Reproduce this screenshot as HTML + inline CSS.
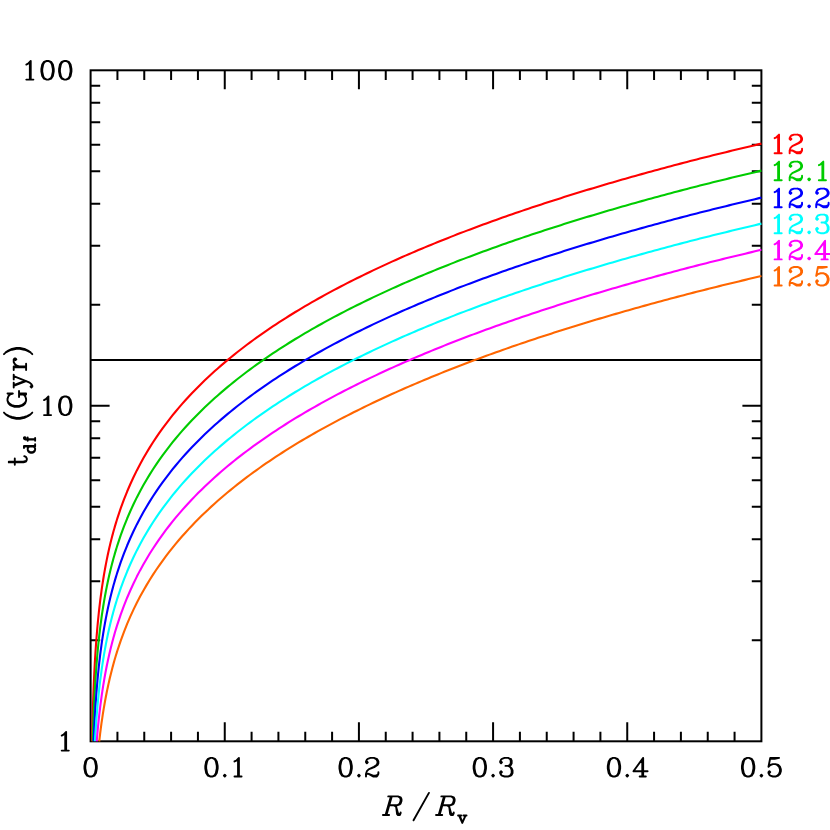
<!DOCTYPE html>
<html><head><meta charset="utf-8"><title>t_df vs R/R_v</title>
<style>html,body{margin:0;padding:0;background:#fff;font-family:"Liberation Sans",sans-serif}svg{display:block}</style>
</head><body>
<svg width="830" height="830" viewBox="0 0 830 830">
<rect width="830" height="830" fill="#fff"/>
<path d="M117.43 741.3 v-9.6M117.43 70.3 v9.6M144.26 741.3 v-9.6M144.26 70.3 v9.6M171.1 741.3 v-9.6M171.1 70.3 v9.6M197.93 741.3 v-9.6M197.93 70.3 v9.6M224.76 741.3 v-19.0M224.76 70.3 v19.0M251.59 741.3 v-9.6M251.59 70.3 v9.6M278.42 741.3 v-9.6M278.42 70.3 v9.6M305.26 741.3 v-9.6M305.26 70.3 v9.6M332.09 741.3 v-9.6M332.09 70.3 v9.6M358.92 741.3 v-19.0M358.92 70.3 v19.0M385.75 741.3 v-9.6M385.75 70.3 v9.6M412.58 741.3 v-9.6M412.58 70.3 v9.6M439.42 741.3 v-9.6M439.42 70.3 v9.6M466.25 741.3 v-9.6M466.25 70.3 v9.6M493.08 741.3 v-19.0M493.08 70.3 v19.0M519.91 741.3 v-9.6M519.91 70.3 v9.6M546.74 741.3 v-9.6M546.74 70.3 v9.6M573.58 741.3 v-9.6M573.58 70.3 v9.6M600.41 741.3 v-9.6M600.41 70.3 v9.6M627.24 741.3 v-19.0M627.24 70.3 v19.0M654.07 741.3 v-9.6M654.07 70.3 v9.6M680.9 741.3 v-9.6M680.9 70.3 v9.6M707.74 741.3 v-9.6M707.74 70.3 v9.6M734.57 741.3 v-9.6M734.57 70.3 v9.6M90.6 640.3 h9.6M761.4 640.3 h-9.6M90.6 581.23 h9.6M761.4 581.23 h-9.6M90.6 539.31 h9.6M761.4 539.31 h-9.6M90.6 506.8 h9.6M761.4 506.8 h-9.6M90.6 480.23 h9.6M761.4 480.23 h-9.6M90.6 457.77 h9.6M761.4 457.77 h-9.6M90.6 438.31 h9.6M761.4 438.31 h-9.6M90.6 421.15 h9.6M761.4 421.15 h-9.6M90.6 405.8 h19.0M761.4 405.8 h-19.0M90.6 304.8 h9.6M761.4 304.8 h-9.6M90.6 245.73 h9.6M761.4 245.73 h-9.6M90.6 203.81 h9.6M761.4 203.81 h-9.6M90.6 171.3 h9.6M761.4 171.3 h-9.6M90.6 144.73 h9.6M761.4 144.73 h-9.6M90.6 122.27 h9.6M761.4 122.27 h-9.6M90.6 102.81 h9.6M761.4 102.81 h-9.6M90.6 85.65 h9.6M761.4 85.65 h-9.6" stroke="#000" stroke-width="2.0" fill="none"/>
<rect x="90.6" y="70.3" width="670.8" height="671" stroke="#000" stroke-width="2.0" fill="none"/>
<path d="M90.6 359.93 H761.4" stroke="#000" stroke-width="2.1" fill="none"/>
<path d="M92.08 741.3 L92.16 736.98 L92.6 718.52 L93.04 703.72 L93.49 691.37 L93.93 680.75 L94.37 671.44 L94.82 663.13 L95.26 655.64 L95.7 648.81 L96.15 642.53 L96.59 636.72 L97.04 631.31 L97.48 626.25 L97.92 621.49 L98.37 617 L98.81 612.75 L99.25 608.71 L99.7 604.86 L100.14 601.19 L100.58 597.68 L101.03 594.3 L101.47 591.07 L101.91 587.95 L102.36 584.94 L102.8 582.04 L103.24 579.24 L103.69 576.53 L104.13 573.9 L104.57 571.35 L105.02 568.87 L105.46 566.46 L105.9 564.12 L106.35 561.84 L106.79 559.61 L107.23 557.45 L107.68 555.33 L108.12 553.26 L108.56 551.24 L109.01 549.27 L109.45 547.34 L109.89 545.45 L110.34 543.6 L110.78 541.78 L111.22 540 L111.67 538.26 L112.11 536.54 L112.55 534.86 L113 533.21 L113.44 531.59 L113.88 529.99 L114.33 528.42 L114.77 526.88 L115.21 525.37 L115.66 523.87 L116.1 522.4 L116.55 520.95 L116.99 519.53 L117.43 518.12 L120.67 508.44 L123.9 499.63 L127.14 491.52 L130.38 484.01 L133.61 476.99 L136.85 470.4 L140.08 464.19 L143.32 458.31 L146.56 452.71 L149.79 447.37 L153.03 442.27 L156.26 437.37 L159.5 432.67 L162.74 428.14 L165.97 423.77 L169.21 419.54 L172.44 415.45 L175.68 411.49 L178.92 407.65 L182.15 403.91 L185.39 400.28 L188.62 396.74 L191.86 393.29 L195.1 389.93 L198.33 386.65 L201.57 383.44 L204.8 380.31 L208.04 377.24 L211.28 374.24 L214.51 371.3 L217.75 368.42 L220.98 365.6 L224.22 362.83 L227.46 360.11 L230.69 357.44 L233.93 354.82 L237.16 352.24 L240.4 349.71 L243.64 347.22 L246.87 344.77 L250.11 342.35 L253.34 339.98 L256.58 337.64 L259.82 335.34 L263.05 333.07 L266.29 330.83 L269.52 328.63 L272.76 326.45 L276 324.31 L279.23 322.19 L282.47 320.1 L285.71 318.04 L288.94 316.01 L292.18 314 L295.41 312.02 L298.65 310.06 L301.89 308.12 L305.12 306.21 L308.36 304.32 L311.59 302.45 L314.83 300.6 L318.07 298.77 L321.3 296.97 L324.54 295.18 L327.77 293.41 L331.01 291.66 L334.25 289.93 L337.48 288.22 L340.72 286.52 L343.95 284.84 L347.19 283.18 L350.43 281.54 L353.66 279.91 L356.9 278.29 L360.13 276.69 L363.37 275.1 L366.61 273.52 L369.84 271.96 L373.08 270.41 L376.31 268.88 L379.55 267.36 L382.79 265.85 L386.02 264.35 L389.26 262.87 L392.49 261.4 L395.73 259.95 L398.97 258.5 L402.2 257.07 L405.44 255.65 L408.67 254.24 L411.91 252.84 L415.15 251.45 L418.38 250.08 L421.62 248.71 L424.85 247.36 L428.09 246.01 L431.33 244.68 L434.56 243.35 L437.8 242.04 L441.03 240.73 L444.27 239.44 L447.51 238.15 L450.74 236.88 L453.98 235.61 L457.21 234.35 L460.45 233.1 L463.69 231.86 L466.92 230.63 L470.16 229.4 L473.39 228.19 L476.63 226.98 L479.87 225.78 L483.1 224.59 L486.34 223.41 L489.57 222.23 L492.81 221.06 L496.05 219.9 L499.28 218.75 L502.52 217.61 L505.75 216.47 L508.99 215.34 L512.23 214.21 L515.46 213.09 L518.7 211.98 L521.93 210.88 L525.17 209.78 L528.41 208.69 L531.64 207.61 L534.88 206.53 L538.11 205.46 L541.35 204.4 L544.59 203.34 L547.82 202.28 L551.06 201.24 L554.29 200.2 L557.53 199.16 L560.77 198.13 L564 197.11 L567.24 196.09 L570.47 195.08 L573.71 194.08 L576.95 193.08 L580.18 192.08 L583.42 191.09 L586.65 190.11 L589.89 189.13 L593.13 188.15 L596.36 187.18 L599.6 186.22 L602.84 185.26 L606.07 184.31 L609.31 183.36 L612.54 182.41 L615.78 181.47 L619.02 180.54 L622.25 179.61 L625.49 178.68 L628.72 177.76 L631.96 176.85 L635.2 175.93 L638.43 175.03 L641.67 174.12 L644.9 173.23 L648.14 172.33 L651.38 171.44 L654.61 170.56 L657.85 169.67 L661.08 168.8 L664.32 167.92 L667.56 167.05 L670.79 166.19 L674.03 165.33 L677.26 164.47 L680.5 163.62 L683.74 162.77 L686.97 161.92 L690.21 161.08 L693.44 160.24 L696.68 159.41 L699.92 158.59 L703.15 157.77 L706.39 156.96 L709.62 156.15 L712.86 155.34 L716.1 154.54 L719.33 153.74 L722.57 152.94 L725.8 152.15 L729.04 151.36 L732.28 150.57 L735.51 149.79 L738.75 149.01 L741.98 148.23 L745.22 147.46 L748.46 146.69 L751.69 145.92 L754.93 145.15 L758.16 144.39 L761.4 143.64" stroke="#ff0000" stroke-width="2.1" fill="none" stroke-linejoin="round"/>
<path d="M92.73 741.3 L93.04 730.72 L93.49 718.37 L93.93 707.75 L94.37 698.44 L94.82 690.13 L95.26 682.64 L95.7 675.81 L96.15 669.53 L96.59 663.72 L97.04 658.31 L97.48 653.25 L97.92 648.49 L98.37 644 L98.81 639.75 L99.25 635.71 L99.7 631.86 L100.14 628.19 L100.58 624.68 L101.03 621.3 L101.47 618.07 L101.91 614.95 L102.36 611.94 L102.8 609.04 L103.24 606.24 L103.69 603.53 L104.13 600.9 L104.57 598.35 L105.02 595.87 L105.46 593.46 L105.9 591.12 L106.35 588.84 L106.79 586.61 L107.23 584.45 L107.68 582.33 L108.12 580.26 L108.56 578.24 L109.01 576.27 L109.45 574.34 L109.89 572.45 L110.34 570.6 L110.78 568.78 L111.22 567 L111.67 565.26 L112.11 563.54 L112.55 561.86 L113 560.21 L113.44 558.59 L113.88 556.99 L114.33 555.42 L114.77 553.88 L115.21 552.37 L115.66 550.87 L116.1 549.4 L116.55 547.95 L116.99 546.53 L117.43 545.12 L120.67 535.44 L123.9 526.63 L127.14 518.52 L130.38 511.01 L133.61 503.99 L136.85 497.4 L140.08 491.19 L143.32 485.31 L146.56 479.71 L149.79 474.37 L153.03 469.27 L156.26 464.37 L159.5 459.67 L162.74 455.14 L165.97 450.77 L169.21 446.54 L172.44 442.45 L175.68 438.49 L178.92 434.65 L182.15 430.91 L185.39 427.28 L188.62 423.74 L191.86 420.29 L195.1 416.93 L198.33 413.65 L201.57 410.44 L204.8 407.31 L208.04 404.24 L211.28 401.24 L214.51 398.3 L217.75 395.42 L220.98 392.6 L224.22 389.83 L227.46 387.11 L230.69 384.44 L233.93 381.82 L237.16 379.24 L240.4 376.71 L243.64 374.22 L246.87 371.77 L250.11 369.35 L253.34 366.98 L256.58 364.64 L259.82 362.34 L263.05 360.07 L266.29 357.83 L269.52 355.63 L272.76 353.45 L276 351.31 L279.23 349.19 L282.47 347.1 L285.71 345.04 L288.94 343.01 L292.18 341 L295.41 339.02 L298.65 337.06 L301.89 335.12 L305.12 333.21 L308.36 331.32 L311.59 329.45 L314.83 327.6 L318.07 325.77 L321.3 323.97 L324.54 322.18 L327.77 320.41 L331.01 318.66 L334.25 316.93 L337.48 315.22 L340.72 313.52 L343.95 311.84 L347.19 310.18 L350.43 308.54 L353.66 306.91 L356.9 305.29 L360.13 303.69 L363.37 302.1 L366.61 300.52 L369.84 298.96 L373.08 297.41 L376.31 295.88 L379.55 294.36 L382.79 292.85 L386.02 291.35 L389.26 289.87 L392.49 288.4 L395.73 286.95 L398.97 285.5 L402.2 284.07 L405.44 282.65 L408.67 281.24 L411.91 279.84 L415.15 278.45 L418.38 277.08 L421.62 275.71 L424.85 274.36 L428.09 273.01 L431.33 271.68 L434.56 270.35 L437.8 269.04 L441.03 267.73 L444.27 266.44 L447.51 265.15 L450.74 263.88 L453.98 262.61 L457.21 261.35 L460.45 260.1 L463.69 258.86 L466.92 257.63 L470.16 256.4 L473.39 255.19 L476.63 253.98 L479.87 252.78 L483.1 251.59 L486.34 250.41 L489.57 249.23 L492.81 248.06 L496.05 246.9 L499.28 245.75 L502.52 244.61 L505.75 243.47 L508.99 242.34 L512.23 241.21 L515.46 240.09 L518.7 238.98 L521.93 237.88 L525.17 236.78 L528.41 235.69 L531.64 234.61 L534.88 233.53 L538.11 232.46 L541.35 231.4 L544.59 230.34 L547.82 229.28 L551.06 228.24 L554.29 227.2 L557.53 226.16 L560.77 225.13 L564 224.11 L567.24 223.09 L570.47 222.08 L573.71 221.08 L576.95 220.08 L580.18 219.08 L583.42 218.09 L586.65 217.11 L589.89 216.13 L593.13 215.15 L596.36 214.18 L599.6 213.22 L602.84 212.26 L606.07 211.31 L609.31 210.36 L612.54 209.41 L615.78 208.47 L619.02 207.54 L622.25 206.61 L625.49 205.68 L628.72 204.76 L631.96 203.85 L635.2 202.93 L638.43 202.03 L641.67 201.12 L644.9 200.23 L648.14 199.33 L651.38 198.44 L654.61 197.56 L657.85 196.67 L661.08 195.8 L664.32 194.92 L667.56 194.05 L670.79 193.19 L674.03 192.33 L677.26 191.47 L680.5 190.62 L683.74 189.77 L686.97 188.92 L690.21 188.08 L693.44 187.24 L696.68 186.41 L699.92 185.59 L703.15 184.77 L706.39 183.96 L709.62 183.15 L712.86 182.34 L716.1 181.54 L719.33 180.74 L722.57 179.94 L725.8 179.15 L729.04 178.36 L732.28 177.57 L735.51 176.79 L738.75 176.01 L741.98 175.23 L745.22 174.46 L748.46 173.69 L751.69 172.92 L754.93 172.15 L758.16 171.39 L761.4 170.64" stroke="#00cc00" stroke-width="2.1" fill="none" stroke-linejoin="round"/>
<path d="M93.66 741.3 L93.93 734.75 L94.37 725.44 L94.82 717.13 L95.26 709.64 L95.7 702.81 L96.15 696.53 L96.59 690.72 L97.04 685.31 L97.48 680.25 L97.92 675.49 L98.37 671 L98.81 666.75 L99.25 662.71 L99.7 658.86 L100.14 655.19 L100.58 651.68 L101.03 648.3 L101.47 645.07 L101.91 641.95 L102.36 638.94 L102.8 636.04 L103.24 633.24 L103.69 630.53 L104.13 627.9 L104.57 625.35 L105.02 622.87 L105.46 620.46 L105.9 618.12 L106.35 615.84 L106.79 613.61 L107.23 611.45 L107.68 609.33 L108.12 607.26 L108.56 605.24 L109.01 603.27 L109.45 601.34 L109.89 599.45 L110.34 597.6 L110.78 595.78 L111.22 594 L111.67 592.26 L112.11 590.54 L112.55 588.86 L113 587.21 L113.44 585.59 L113.88 583.99 L114.33 582.42 L114.77 580.88 L115.21 579.37 L115.66 577.87 L116.1 576.4 L116.55 574.95 L116.99 573.53 L117.43 572.12 L120.67 562.44 L123.9 553.63 L127.14 545.52 L130.38 538.01 L133.61 530.99 L136.85 524.4 L140.08 518.19 L143.32 512.31 L146.56 506.71 L149.79 501.37 L153.03 496.27 L156.26 491.37 L159.5 486.67 L162.74 482.14 L165.97 477.77 L169.21 473.54 L172.44 469.45 L175.68 465.49 L178.92 461.65 L182.15 457.91 L185.39 454.28 L188.62 450.74 L191.86 447.29 L195.1 443.93 L198.33 440.65 L201.57 437.44 L204.8 434.31 L208.04 431.24 L211.28 428.24 L214.51 425.3 L217.75 422.42 L220.98 419.6 L224.22 416.83 L227.46 414.11 L230.69 411.44 L233.93 408.82 L237.16 406.24 L240.4 403.71 L243.64 401.22 L246.87 398.77 L250.11 396.35 L253.34 393.98 L256.58 391.64 L259.82 389.34 L263.05 387.07 L266.29 384.83 L269.52 382.63 L272.76 380.45 L276 378.31 L279.23 376.19 L282.47 374.1 L285.71 372.04 L288.94 370.01 L292.18 368 L295.41 366.02 L298.65 364.06 L301.89 362.12 L305.12 360.21 L308.36 358.32 L311.59 356.45 L314.83 354.6 L318.07 352.77 L321.3 350.97 L324.54 349.18 L327.77 347.41 L331.01 345.66 L334.25 343.93 L337.48 342.22 L340.72 340.52 L343.95 338.84 L347.19 337.18 L350.43 335.54 L353.66 333.91 L356.9 332.29 L360.13 330.69 L363.37 329.1 L366.61 327.52 L369.84 325.96 L373.08 324.41 L376.31 322.88 L379.55 321.36 L382.79 319.85 L386.02 318.35 L389.26 316.87 L392.49 315.4 L395.73 313.95 L398.97 312.5 L402.2 311.07 L405.44 309.65 L408.67 308.24 L411.91 306.84 L415.15 305.45 L418.38 304.08 L421.62 302.71 L424.85 301.36 L428.09 300.01 L431.33 298.68 L434.56 297.35 L437.8 296.04 L441.03 294.73 L444.27 293.44 L447.51 292.15 L450.74 290.88 L453.98 289.61 L457.21 288.35 L460.45 287.1 L463.69 285.86 L466.92 284.63 L470.16 283.4 L473.39 282.19 L476.63 280.98 L479.87 279.78 L483.1 278.59 L486.34 277.41 L489.57 276.23 L492.81 275.06 L496.05 273.9 L499.28 272.75 L502.52 271.61 L505.75 270.47 L508.99 269.34 L512.23 268.21 L515.46 267.09 L518.7 265.98 L521.93 264.88 L525.17 263.78 L528.41 262.69 L531.64 261.61 L534.88 260.53 L538.11 259.46 L541.35 258.4 L544.59 257.34 L547.82 256.28 L551.06 255.24 L554.29 254.2 L557.53 253.16 L560.77 252.13 L564 251.11 L567.24 250.09 L570.47 249.08 L573.71 248.08 L576.95 247.08 L580.18 246.08 L583.42 245.09 L586.65 244.11 L589.89 243.13 L593.13 242.15 L596.36 241.18 L599.6 240.22 L602.84 239.26 L606.07 238.31 L609.31 237.36 L612.54 236.41 L615.78 235.47 L619.02 234.54 L622.25 233.61 L625.49 232.68 L628.72 231.76 L631.96 230.85 L635.2 229.93 L638.43 229.03 L641.67 228.12 L644.9 227.23 L648.14 226.33 L651.38 225.44 L654.61 224.56 L657.85 223.67 L661.08 222.8 L664.32 221.92 L667.56 221.05 L670.79 220.19 L674.03 219.33 L677.26 218.47 L680.5 217.62 L683.74 216.77 L686.97 215.92 L690.21 215.08 L693.44 214.24 L696.68 213.41 L699.92 212.59 L703.15 211.77 L706.39 210.96 L709.62 210.15 L712.86 209.34 L716.1 208.54 L719.33 207.74 L722.57 206.94 L725.8 206.15 L729.04 205.36 L732.28 204.57 L735.51 203.79 L738.75 203.01 L741.98 202.23 L745.22 201.46 L748.46 200.69 L751.69 199.92 L754.93 199.15 L758.16 198.39 L761.4 197.64" stroke="#0000ff" stroke-width="2.1" fill="none" stroke-linejoin="round"/>
<path d="M94.93 741.3 L95.26 735.64 L95.7 728.81 L96.15 722.53 L96.59 716.72 L97.04 711.31 L97.48 706.25 L97.92 701.49 L98.37 697 L98.81 692.75 L99.25 688.71 L99.7 684.86 L100.14 681.19 L100.58 677.68 L101.03 674.3 L101.47 671.07 L101.91 667.95 L102.36 664.94 L102.8 662.04 L103.24 659.24 L103.69 656.53 L104.13 653.9 L104.57 651.35 L105.02 648.87 L105.46 646.46 L105.9 644.12 L106.35 641.84 L106.79 639.61 L107.23 637.45 L107.68 635.33 L108.12 633.26 L108.56 631.24 L109.01 629.27 L109.45 627.34 L109.89 625.45 L110.34 623.6 L110.78 621.78 L111.22 620 L111.67 618.26 L112.11 616.54 L112.55 614.86 L113 613.21 L113.44 611.59 L113.88 609.99 L114.33 608.42 L114.77 606.88 L115.21 605.37 L115.66 603.87 L116.1 602.4 L116.55 600.95 L116.99 599.53 L117.43 598.12 L120.67 588.44 L123.9 579.63 L127.14 571.52 L130.38 564.01 L133.61 556.99 L136.85 550.4 L140.08 544.19 L143.32 538.31 L146.56 532.71 L149.79 527.37 L153.03 522.27 L156.26 517.37 L159.5 512.67 L162.74 508.14 L165.97 503.77 L169.21 499.54 L172.44 495.45 L175.68 491.49 L178.92 487.65 L182.15 483.91 L185.39 480.28 L188.62 476.74 L191.86 473.29 L195.1 469.93 L198.33 466.65 L201.57 463.44 L204.8 460.31 L208.04 457.24 L211.28 454.24 L214.51 451.3 L217.75 448.42 L220.98 445.6 L224.22 442.83 L227.46 440.11 L230.69 437.44 L233.93 434.82 L237.16 432.24 L240.4 429.71 L243.64 427.22 L246.87 424.77 L250.11 422.35 L253.34 419.98 L256.58 417.64 L259.82 415.34 L263.05 413.07 L266.29 410.83 L269.52 408.63 L272.76 406.45 L276 404.31 L279.23 402.19 L282.47 400.1 L285.71 398.04 L288.94 396.01 L292.18 394 L295.41 392.02 L298.65 390.06 L301.89 388.12 L305.12 386.21 L308.36 384.32 L311.59 382.45 L314.83 380.6 L318.07 378.77 L321.3 376.97 L324.54 375.18 L327.77 373.41 L331.01 371.66 L334.25 369.93 L337.48 368.22 L340.72 366.52 L343.95 364.84 L347.19 363.18 L350.43 361.54 L353.66 359.91 L356.9 358.29 L360.13 356.69 L363.37 355.1 L366.61 353.52 L369.84 351.96 L373.08 350.41 L376.31 348.88 L379.55 347.36 L382.79 345.85 L386.02 344.35 L389.26 342.87 L392.49 341.4 L395.73 339.95 L398.97 338.5 L402.2 337.07 L405.44 335.65 L408.67 334.24 L411.91 332.84 L415.15 331.45 L418.38 330.08 L421.62 328.71 L424.85 327.36 L428.09 326.01 L431.33 324.68 L434.56 323.35 L437.8 322.04 L441.03 320.73 L444.27 319.44 L447.51 318.15 L450.74 316.88 L453.98 315.61 L457.21 314.35 L460.45 313.1 L463.69 311.86 L466.92 310.63 L470.16 309.4 L473.39 308.19 L476.63 306.98 L479.87 305.78 L483.1 304.59 L486.34 303.41 L489.57 302.23 L492.81 301.06 L496.05 299.9 L499.28 298.75 L502.52 297.61 L505.75 296.47 L508.99 295.34 L512.23 294.21 L515.46 293.09 L518.7 291.98 L521.93 290.88 L525.17 289.78 L528.41 288.69 L531.64 287.61 L534.88 286.53 L538.11 285.46 L541.35 284.4 L544.59 283.34 L547.82 282.28 L551.06 281.24 L554.29 280.2 L557.53 279.16 L560.77 278.13 L564 277.11 L567.24 276.09 L570.47 275.08 L573.71 274.08 L576.95 273.08 L580.18 272.08 L583.42 271.09 L586.65 270.11 L589.89 269.13 L593.13 268.15 L596.36 267.18 L599.6 266.22 L602.84 265.26 L606.07 264.31 L609.31 263.36 L612.54 262.41 L615.78 261.47 L619.02 260.54 L622.25 259.61 L625.49 258.68 L628.72 257.76 L631.96 256.85 L635.2 255.93 L638.43 255.03 L641.67 254.12 L644.9 253.23 L648.14 252.33 L651.38 251.44 L654.61 250.56 L657.85 249.67 L661.08 248.8 L664.32 247.92 L667.56 247.05 L670.79 246.19 L674.03 245.33 L677.26 244.47 L680.5 243.62 L683.74 242.77 L686.97 241.92 L690.21 241.08 L693.44 240.24 L696.68 239.41 L699.92 238.59 L703.15 237.77 L706.39 236.96 L709.62 236.15 L712.86 235.34 L716.1 234.54 L719.33 233.74 L722.57 232.94 L725.8 232.15 L729.04 231.36 L732.28 230.57 L735.51 229.79 L738.75 229.01 L741.98 228.23 L745.22 227.46 L748.46 226.69 L751.69 225.92 L754.93 225.15 L758.16 224.39 L761.4 223.64" stroke="#00ffff" stroke-width="2.1" fill="none" stroke-linejoin="round"/>
<path d="M96.72 741.3 L97.04 737.51 L97.48 732.45 L97.92 727.69 L98.37 723.2 L98.81 718.95 L99.25 714.91 L99.7 711.06 L100.14 707.39 L100.58 703.88 L101.03 700.5 L101.47 697.27 L101.91 694.15 L102.36 691.14 L102.8 688.24 L103.24 685.44 L103.69 682.73 L104.13 680.1 L104.57 677.55 L105.02 675.07 L105.46 672.66 L105.9 670.32 L106.35 668.04 L106.79 665.81 L107.23 663.65 L107.68 661.53 L108.12 659.46 L108.56 657.44 L109.01 655.47 L109.45 653.54 L109.89 651.65 L110.34 649.8 L110.78 647.98 L111.22 646.2 L111.67 644.46 L112.11 642.74 L112.55 641.06 L113 639.41 L113.44 637.79 L113.88 636.19 L114.33 634.62 L114.77 633.08 L115.21 631.57 L115.66 630.07 L116.1 628.6 L116.55 627.15 L116.99 625.73 L117.43 624.32 L120.67 614.64 L123.9 605.83 L127.14 597.72 L130.38 590.21 L133.61 583.19 L136.85 576.6 L140.08 570.39 L143.32 564.51 L146.56 558.91 L149.79 553.57 L153.03 548.47 L156.26 543.57 L159.5 538.87 L162.74 534.34 L165.97 529.97 L169.21 525.74 L172.44 521.65 L175.68 517.69 L178.92 513.85 L182.15 510.11 L185.39 506.48 L188.62 502.94 L191.86 499.49 L195.1 496.13 L198.33 492.85 L201.57 489.64 L204.8 486.51 L208.04 483.44 L211.28 480.44 L214.51 477.5 L217.75 474.62 L220.98 471.8 L224.22 469.03 L227.46 466.31 L230.69 463.64 L233.93 461.02 L237.16 458.44 L240.4 455.91 L243.64 453.42 L246.87 450.97 L250.11 448.55 L253.34 446.18 L256.58 443.84 L259.82 441.54 L263.05 439.27 L266.29 437.03 L269.52 434.83 L272.76 432.65 L276 430.51 L279.23 428.39 L282.47 426.3 L285.71 424.24 L288.94 422.21 L292.18 420.2 L295.41 418.22 L298.65 416.26 L301.89 414.32 L305.12 412.41 L308.36 410.52 L311.59 408.65 L314.83 406.8 L318.07 404.97 L321.3 403.17 L324.54 401.38 L327.77 399.61 L331.01 397.86 L334.25 396.13 L337.48 394.42 L340.72 392.72 L343.95 391.04 L347.19 389.38 L350.43 387.74 L353.66 386.11 L356.9 384.49 L360.13 382.89 L363.37 381.3 L366.61 379.72 L369.84 378.16 L373.08 376.61 L376.31 375.08 L379.55 373.56 L382.79 372.05 L386.02 370.55 L389.26 369.07 L392.49 367.6 L395.73 366.15 L398.97 364.7 L402.2 363.27 L405.44 361.85 L408.67 360.44 L411.91 359.04 L415.15 357.65 L418.38 356.28 L421.62 354.91 L424.85 353.56 L428.09 352.21 L431.33 350.88 L434.56 349.55 L437.8 348.24 L441.03 346.93 L444.27 345.64 L447.51 344.35 L450.74 343.08 L453.98 341.81 L457.21 340.55 L460.45 339.3 L463.69 338.06 L466.92 336.83 L470.16 335.6 L473.39 334.39 L476.63 333.18 L479.87 331.98 L483.1 330.79 L486.34 329.61 L489.57 328.43 L492.81 327.26 L496.05 326.1 L499.28 324.95 L502.52 323.81 L505.75 322.67 L508.99 321.54 L512.23 320.41 L515.46 319.29 L518.7 318.18 L521.93 317.08 L525.17 315.98 L528.41 314.89 L531.64 313.81 L534.88 312.73 L538.11 311.66 L541.35 310.6 L544.59 309.54 L547.82 308.48 L551.06 307.44 L554.29 306.4 L557.53 305.36 L560.77 304.33 L564 303.31 L567.24 302.29 L570.47 301.28 L573.71 300.28 L576.95 299.28 L580.18 298.28 L583.42 297.29 L586.65 296.31 L589.89 295.33 L593.13 294.35 L596.36 293.38 L599.6 292.42 L602.84 291.46 L606.07 290.51 L609.31 289.56 L612.54 288.61 L615.78 287.67 L619.02 286.74 L622.25 285.81 L625.49 284.88 L628.72 283.96 L631.96 283.05 L635.2 282.13 L638.43 281.23 L641.67 280.32 L644.9 279.43 L648.14 278.53 L651.38 277.64 L654.61 276.76 L657.85 275.87 L661.08 275 L664.32 274.12 L667.56 273.25 L670.79 272.39 L674.03 271.53 L677.26 270.67 L680.5 269.82 L683.74 268.97 L686.97 268.12 L690.21 267.28 L693.44 266.44 L696.68 265.61 L699.92 264.79 L703.15 263.97 L706.39 263.16 L709.62 262.35 L712.86 261.54 L716.1 260.74 L719.33 259.94 L722.57 259.14 L725.8 258.35 L729.04 257.56 L732.28 256.77 L735.51 255.99 L738.75 255.21 L741.98 254.43 L745.22 253.66 L748.46 252.89 L751.69 252.12 L754.93 251.35 L758.16 250.59 L761.4 249.84" stroke="#ff00ff" stroke-width="2.1" fill="none" stroke-linejoin="round"/>
<path d="M99.23 741.3 L99.25 741.11 L99.7 737.26 L100.14 733.59 L100.58 730.08 L101.03 726.7 L101.47 723.47 L101.91 720.35 L102.36 717.34 L102.8 714.44 L103.24 711.64 L103.69 708.93 L104.13 706.3 L104.57 703.75 L105.02 701.27 L105.46 698.86 L105.9 696.52 L106.35 694.24 L106.79 692.01 L107.23 689.85 L107.68 687.73 L108.12 685.66 L108.56 683.64 L109.01 681.67 L109.45 679.74 L109.89 677.85 L110.34 676 L110.78 674.18 L111.22 672.4 L111.67 670.66 L112.11 668.94 L112.55 667.26 L113 665.61 L113.44 663.99 L113.88 662.39 L114.33 660.82 L114.77 659.28 L115.21 657.77 L115.66 656.27 L116.1 654.8 L116.55 653.35 L116.99 651.93 L117.43 650.52 L120.67 640.84 L123.9 632.03 L127.14 623.92 L130.38 616.41 L133.61 609.39 L136.85 602.8 L140.08 596.59 L143.32 590.71 L146.56 585.11 L149.79 579.77 L153.03 574.67 L156.26 569.77 L159.5 565.07 L162.74 560.54 L165.97 556.17 L169.21 551.94 L172.44 547.85 L175.68 543.89 L178.92 540.05 L182.15 536.31 L185.39 532.68 L188.62 529.14 L191.86 525.69 L195.1 522.33 L198.33 519.05 L201.57 515.84 L204.8 512.71 L208.04 509.64 L211.28 506.64 L214.51 503.7 L217.75 500.82 L220.98 498 L224.22 495.23 L227.46 492.51 L230.69 489.84 L233.93 487.22 L237.16 484.64 L240.4 482.11 L243.64 479.62 L246.87 477.17 L250.11 474.75 L253.34 472.38 L256.58 470.04 L259.82 467.74 L263.05 465.47 L266.29 463.23 L269.52 461.03 L272.76 458.85 L276 456.71 L279.23 454.59 L282.47 452.5 L285.71 450.44 L288.94 448.41 L292.18 446.4 L295.41 444.42 L298.65 442.46 L301.89 440.52 L305.12 438.61 L308.36 436.72 L311.59 434.85 L314.83 433 L318.07 431.17 L321.3 429.37 L324.54 427.58 L327.77 425.81 L331.01 424.06 L334.25 422.33 L337.48 420.62 L340.72 418.92 L343.95 417.24 L347.19 415.58 L350.43 413.94 L353.66 412.31 L356.9 410.69 L360.13 409.09 L363.37 407.5 L366.61 405.92 L369.84 404.36 L373.08 402.81 L376.31 401.28 L379.55 399.76 L382.79 398.25 L386.02 396.75 L389.26 395.27 L392.49 393.8 L395.73 392.35 L398.97 390.9 L402.2 389.47 L405.44 388.05 L408.67 386.64 L411.91 385.24 L415.15 383.85 L418.38 382.48 L421.62 381.11 L424.85 379.76 L428.09 378.41 L431.33 377.08 L434.56 375.75 L437.8 374.44 L441.03 373.13 L444.27 371.84 L447.51 370.55 L450.74 369.28 L453.98 368.01 L457.21 366.75 L460.45 365.5 L463.69 364.26 L466.92 363.03 L470.16 361.8 L473.39 360.59 L476.63 359.38 L479.87 358.18 L483.1 356.99 L486.34 355.81 L489.57 354.63 L492.81 353.46 L496.05 352.3 L499.28 351.15 L502.52 350.01 L505.75 348.87 L508.99 347.74 L512.23 346.61 L515.46 345.49 L518.7 344.38 L521.93 343.28 L525.17 342.18 L528.41 341.09 L531.64 340.01 L534.88 338.93 L538.11 337.86 L541.35 336.8 L544.59 335.74 L547.82 334.68 L551.06 333.64 L554.29 332.6 L557.53 331.56 L560.77 330.53 L564 329.51 L567.24 328.49 L570.47 327.48 L573.71 326.48 L576.95 325.48 L580.18 324.48 L583.42 323.49 L586.65 322.51 L589.89 321.53 L593.13 320.55 L596.36 319.58 L599.6 318.62 L602.84 317.66 L606.07 316.71 L609.31 315.76 L612.54 314.81 L615.78 313.87 L619.02 312.94 L622.25 312.01 L625.49 311.08 L628.72 310.16 L631.96 309.25 L635.2 308.33 L638.43 307.43 L641.67 306.52 L644.9 305.63 L648.14 304.73 L651.38 303.84 L654.61 302.96 L657.85 302.07 L661.08 301.2 L664.32 300.32 L667.56 299.45 L670.79 298.59 L674.03 297.73 L677.26 296.87 L680.5 296.02 L683.74 295.17 L686.97 294.32 L690.21 293.48 L693.44 292.64 L696.68 291.81 L699.92 290.99 L703.15 290.17 L706.39 289.36 L709.62 288.55 L712.86 287.74 L716.1 286.94 L719.33 286.14 L722.57 285.34 L725.8 284.55 L729.04 283.76 L732.28 282.97 L735.51 282.19 L738.75 281.41 L741.98 280.63 L745.22 279.86 L748.46 279.09 L751.69 278.32 L754.93 277.55 L758.16 276.79 L761.4 276.04" stroke="#ff6600" stroke-width="2.1" fill="none" stroke-linejoin="round"/>
<path transform="translate(90.6 776.5) translate(-8.85 0)" d="M7.96 -18.59 L9.73 -18.59 L11.51 -17.7 L12.39 -16.82 L13.28 -15.04 L14.16 -10.62 L14.16 -7.96 L13.28 -3.54 L12.39 -1.77 L11.51 -0.89 L9.73 0 L7.96 0 L6.2 -0.89 L5.31 -1.77 L4.42 -3.54 L3.54 -7.96 L3.54 -10.62 L4.42 -15.04 L5.31 -16.82 L6.2 -17.7 L7.96 -18.59 L5.31 -17.7 L3.54 -15.04 L2.66 -10.62 L2.66 -7.96 L3.54 -3.54 L5.31 -0.89 L7.96 0M9.73 -18.59 L12.39 -17.7 L14.16 -15.04 L15.04 -10.62 L15.04 -7.96 L14.16 -3.54 L12.39 -0.89 L9.73 0" stroke="#000" stroke-width="1.9" fill="none" stroke-linecap="round" stroke-linejoin="round"/>
<path transform="translate(224.76 776.5) translate(-22.12 0)" d="M7.96 -18.59 L9.73 -18.59 L11.51 -17.7 L12.39 -16.82 L13.28 -15.04 L14.16 -10.62 L14.16 -7.96 L13.28 -3.54 L12.39 -1.77 L11.51 -0.89 L9.73 0 L7.96 0 L6.2 -0.89 L5.31 -1.77 L4.42 -3.54 L3.54 -7.96 L3.54 -10.62 L4.42 -15.04 L5.31 -16.82 L6.2 -17.7 L7.96 -18.59 L5.31 -17.7 L3.54 -15.04 L2.66 -10.62 L2.66 -7.96 L3.54 -3.54 L5.31 -0.89 L7.96 0M9.73 -18.59 L12.39 -17.7 L14.16 -15.04 L15.04 -10.62 L15.04 -7.96 L14.16 -3.54 L12.39 -0.89 L9.73 0M21.24 -0.89 L22.12 -1.77 L23.01 -0.89 L22.12 0 L21.24 -0.89M31.86 -15.04 L33.63 -15.93 L36.28 -18.59 L36.28 0M31.86 0 L38.94 0M35.4 -17.7 L35.4 0" stroke="#000" stroke-width="1.9" fill="none" stroke-linecap="round" stroke-linejoin="round"/>
<path transform="translate(358.92 776.5) translate(-22.12 0)" d="M7.96 -18.59 L9.73 -18.59 L11.51 -17.7 L12.39 -16.82 L13.28 -15.04 L14.16 -10.62 L14.16 -7.96 L13.28 -3.54 L12.39 -1.77 L11.51 -0.89 L9.73 0 L7.96 0 L6.2 -0.89 L5.31 -1.77 L4.42 -3.54 L3.54 -7.96 L3.54 -10.62 L4.42 -15.04 L5.31 -16.82 L6.2 -17.7 L7.96 -18.59 L5.31 -17.7 L3.54 -15.04 L2.66 -10.62 L2.66 -7.96 L3.54 -3.54 L5.31 -0.89 L7.96 0M9.73 -18.59 L12.39 -17.7 L14.16 -15.04 L15.04 -10.62 L15.04 -7.96 L14.16 -3.54 L12.39 -0.89 L9.73 0M21.24 -0.89 L22.12 -1.77 L23.01 -0.89 L22.12 0 L21.24 -0.89M29.2 -1.77 L30.09 -2.66 L31.86 -2.66 L36.28 -0.89 L38.94 -0.89 L40.71 -1.77 L41.59 -2.66 L41.59 -4.42M29.2 0 L29.2 -2.66 L30.09 -5.31 L31.86 -7.08 L37.17 -9.73 L39.82 -11.51 L40.71 -13.28 L40.71 -15.04 L39.82 -16.82 L38.94 -17.7 L37.17 -18.59 L33.63 -18.59 L30.97 -17.7 L30.09 -16.82 L29.2 -15.04 L29.2 -14.16 L30.09 -13.28 L30.97 -14.16 L30.09 -15.04M31.86 -2.66 L36.28 0 L39.82 0 L40.71 -0.89 L41.59 -2.66M33.63 -7.96 L38.05 -9.73 L40.71 -11.51 L41.59 -13.28 L41.59 -15.04 L40.71 -16.82 L39.82 -17.7 L37.17 -18.59" stroke="#000" stroke-width="1.9" fill="none" stroke-linecap="round" stroke-linejoin="round"/>
<path transform="translate(493.08 776.5) translate(-22.12 0)" d="M7.96 -18.59 L9.73 -18.59 L11.51 -17.7 L12.39 -16.82 L13.28 -15.04 L14.16 -10.62 L14.16 -7.96 L13.28 -3.54 L12.39 -1.77 L11.51 -0.89 L9.73 0 L7.96 0 L6.2 -0.89 L5.31 -1.77 L4.42 -3.54 L3.54 -7.96 L3.54 -10.62 L4.42 -15.04 L5.31 -16.82 L6.2 -17.7 L7.96 -18.59 L5.31 -17.7 L3.54 -15.04 L2.66 -10.62 L2.66 -7.96 L3.54 -3.54 L5.31 -0.89 L7.96 0M9.73 -18.59 L12.39 -17.7 L14.16 -15.04 L15.04 -10.62 L15.04 -7.96 L14.16 -3.54 L12.39 -0.89 L9.73 0M21.24 -0.89 L22.12 -1.77 L23.01 -0.89 L22.12 0 L21.24 -0.89M30.09 -15.04 L30.97 -14.16 L30.09 -13.28 L29.2 -14.16 L29.2 -15.04 L30.09 -16.82 L30.97 -17.7 L33.63 -18.59 L37.17 -18.59 L38.94 -17.7 L39.82 -15.93 L39.82 -13.28 L38.94 -11.51 L37.17 -10.62 L39.82 -11.51 L40.71 -13.28 L40.71 -15.93 L39.82 -17.7 L37.17 -18.59M30.09 -3.54 L30.97 -4.42 L30.09 -5.31 L29.2 -4.42 L29.2 -3.54 L30.09 -1.77 L30.97 -0.89 L33.63 0 L37.17 0 L38.94 -0.89 L39.82 -1.77 L40.71 -3.54 L40.71 -6.2 L39.82 -8.85M34.52 -10.62 L37.17 -10.62 L38.94 -9.73 L40.71 -7.96 L41.59 -6.2 L41.59 -3.54 L40.71 -1.77 L39.82 -0.89 L37.17 0" stroke="#000" stroke-width="1.9" fill="none" stroke-linecap="round" stroke-linejoin="round"/>
<path transform="translate(627.24 776.5) translate(-22.12 0)" d="M7.96 -18.59 L9.73 -18.59 L11.51 -17.7 L12.39 -16.82 L13.28 -15.04 L14.16 -10.62 L14.16 -7.96 L13.28 -3.54 L12.39 -1.77 L11.51 -0.89 L9.73 0 L7.96 0 L6.2 -0.89 L5.31 -1.77 L4.42 -3.54 L3.54 -7.96 L3.54 -10.62 L4.42 -15.04 L5.31 -16.82 L6.2 -17.7 L7.96 -18.59 L5.31 -17.7 L3.54 -15.04 L2.66 -10.62 L2.66 -7.96 L3.54 -3.54 L5.31 -0.89 L7.96 0M9.73 -18.59 L12.39 -17.7 L14.16 -15.04 L15.04 -10.62 L15.04 -7.96 L14.16 -3.54 L12.39 -0.89 L9.73 0M21.24 -0.89 L22.12 -1.77 L23.01 -0.89 L22.12 0 L21.24 -0.89M34.52 0 L40.71 0M37.17 -16.82 L37.17 0M38.05 0 L38.05 -18.59 L28.32 -5.31 L42.48 -5.31" stroke="#000" stroke-width="1.9" fill="none" stroke-linecap="round" stroke-linejoin="round"/>
<path transform="translate(761.4 776.5) translate(-22.12 0)" d="M7.96 -18.59 L9.73 -18.59 L11.51 -17.7 L12.39 -16.82 L13.28 -15.04 L14.16 -10.62 L14.16 -7.96 L13.28 -3.54 L12.39 -1.77 L11.51 -0.89 L9.73 0 L7.96 0 L6.2 -0.89 L5.31 -1.77 L4.42 -3.54 L3.54 -7.96 L3.54 -10.62 L4.42 -15.04 L5.31 -16.82 L6.2 -17.7 L7.96 -18.59 L5.31 -17.7 L3.54 -15.04 L2.66 -10.62 L2.66 -7.96 L3.54 -3.54 L5.31 -0.89 L7.96 0M9.73 -18.59 L12.39 -17.7 L14.16 -15.04 L15.04 -10.62 L15.04 -7.96 L14.16 -3.54 L12.39 -0.89 L9.73 0M21.24 -0.89 L22.12 -1.77 L23.01 -0.89 L22.12 0 L21.24 -0.89M30.09 -3.54 L30.97 -4.42 L30.09 -5.31 L29.2 -4.42 L29.2 -3.54 L30.09 -1.77 L30.97 -0.89 L33.63 0 L36.28 0 L38.05 -0.89 L39.82 -2.66 L40.71 -5.31 L40.71 -7.08 L39.82 -9.73 L38.05 -11.51 L36.28 -12.39 L33.63 -12.39 L30.97 -11.51 L29.2 -9.73 L30.97 -18.59 L39.82 -18.59 L35.4 -17.7 L30.97 -17.7M36.28 -12.39 L38.94 -11.51 L40.71 -9.73 L41.59 -7.08 L41.59 -5.31 L40.71 -2.66 L38.94 -0.89 L36.28 0" stroke="#000" stroke-width="1.9" fill="none" stroke-linecap="round" stroke-linejoin="round"/>
<path transform="translate(74.1 750.59) translate(-17.7 0)" d="M5.31 -15.04 L7.08 -15.93 L9.73 -18.59 L9.73 0M5.31 0 L12.39 0M8.85 -17.7 L8.85 0" stroke="#000" stroke-width="1.9" fill="none" stroke-linecap="round" stroke-linejoin="round"/>
<path transform="translate(74.1 415.09) translate(-35.4 0)" d="M5.31 -15.04 L7.08 -15.93 L9.73 -18.59 L9.73 0M5.31 0 L12.39 0M8.85 -17.7 L8.85 0M25.66 -18.59 L27.43 -18.59 L29.2 -17.7 L30.09 -16.82 L30.98 -15.04 L31.86 -10.62 L31.86 -7.96 L30.98 -3.54 L30.09 -1.77 L29.2 -0.89 L27.43 0 L25.66 0 L23.89 -0.89 L23.01 -1.77 L22.12 -3.54 L21.24 -7.96 L21.24 -10.62 L22.12 -15.04 L23.01 -16.82 L23.89 -17.7 L25.66 -18.59 L23.01 -17.7 L21.24 -15.04 L20.36 -10.62 L20.36 -7.96 L21.24 -3.54 L23.01 -0.89 L25.66 0M27.43 -18.59 L30.09 -17.7 L31.86 -15.04 L32.74 -10.62 L32.74 -7.96 L31.86 -3.54 L30.09 -0.89 L27.43 0" stroke="#000" stroke-width="1.9" fill="none" stroke-linecap="round" stroke-linejoin="round"/>
<path transform="translate(74.1 79.59) translate(-53.1 0)" d="M5.31 -15.04 L7.08 -15.93 L9.73 -18.59 L9.73 0M5.31 0 L12.39 0M8.85 -17.7 L8.85 0M25.66 -18.59 L27.43 -18.59 L29.2 -17.7 L30.09 -16.82 L30.98 -15.04 L31.86 -10.62 L31.86 -7.96 L30.98 -3.54 L30.09 -1.77 L29.2 -0.89 L27.43 0 L25.66 0 L23.89 -0.89 L23.01 -1.77 L22.12 -3.54 L21.24 -7.96 L21.24 -10.62 L22.12 -15.04 L23.01 -16.82 L23.89 -17.7 L25.66 -18.59 L23.01 -17.7 L21.24 -15.04 L20.36 -10.62 L20.36 -7.96 L21.24 -3.54 L23.01 -0.89 L25.66 0M27.43 -18.59 L30.09 -17.7 L31.86 -15.04 L32.74 -10.62 L32.74 -7.96 L31.86 -3.54 L30.09 -0.89 L27.43 0M43.36 -18.59 L45.13 -18.59 L46.91 -17.7 L47.79 -16.82 L48.67 -15.04 L49.56 -10.62 L49.56 -7.96 L48.67 -3.54 L47.79 -1.77 L46.91 -0.89 L45.13 0 L43.36 0 L41.59 -0.89 L40.71 -1.77 L39.82 -3.54 L38.94 -7.96 L38.94 -10.62 L39.82 -15.04 L40.71 -16.82 L41.59 -17.7 L43.36 -18.59 L40.71 -17.7 L38.94 -15.04 L38.05 -10.62 L38.05 -7.96 L38.94 -3.54 L40.71 -0.89 L43.36 0M45.13 -18.59 L47.79 -17.7 L49.56 -15.04 L50.45 -10.62 L50.45 -7.96 L49.56 -3.54 L47.79 -0.89 L45.13 0" stroke="#000" stroke-width="1.9" fill="none" stroke-linecap="round" stroke-linejoin="round"/>
<path transform="translate(425 815) translate(-42.08 0)" d="M0 0 L6.2 0M2.66 0 L7.96 -18.59M3.54 0 L8.85 -18.59M5.31 -18.59 L15.04 -18.59 L16.82 -17.7 L17.7 -15.93 L17.7 -14.16 L16.82 -11.51 L15.93 -10.62 L14.16 -9.73 L6.2 -9.73M10.62 -9.73 L12.39 -8.85 L13.28 -7.96 L14.16 -0.89 L15.04 0 L16.82 0 L17.7 -1.77 L16.82 -0.89 L15.93 -0.89 L15.04 -1.77 L13.28 -7.96M14.16 -9.73 L16.82 -10.62 L17.7 -11.51 L18.59 -14.16 L18.59 -15.93 L17.7 -17.7 L15.04 -18.59M17.7 -2.66 L17.7 -1.77M46.02 -22.12 L30.62 5.31M53.1 0 L59.3 0M55.76 0 L61.06 -18.59M56.64 0 L61.95 -18.59M58.41 -18.59 L68.14 -18.59 L69.92 -17.7 L70.8 -15.93 L70.8 -14.16 L69.92 -11.51 L69.03 -10.62 L67.26 -9.73 L59.3 -9.73M63.72 -9.73 L65.49 -8.85 L66.38 -7.96 L67.26 -0.89 L68.14 0 L69.92 0 L70.8 -1.77 L69.92 -0.89 L69.03 -0.89 L68.14 -1.77 L66.38 -7.96M67.26 -9.73 L69.92 -10.62 L70.8 -11.51 L71.69 -14.16 L71.69 -15.93 L70.8 -17.7 L68.14 -18.59M70.8 -2.66 L70.8 -1.77M75.14 0.53 L78.32 0.53M76.2 0.53 L79.38 7.96 L82.57 0.53M76.73 0.53 L79.38 6.9M80.45 0.53 L83.63 0.53" stroke="#000" stroke-width="1.9" fill="none" stroke-linecap="round" stroke-linejoin="round"/>
<path transform="translate(26.1 466.5) rotate(-90)" d="M1.77 -11.31 L8 -11.31M4.11 -17.32 L4.11 -2.73 L4.89 -0.15 L6.44 0.71 L5.66 -0.15 L4.89 -2.73 L4.89 -17.32M6.44 0.71 L8 0.71 L9.56 -0.15 L10.34 -1.87M16.88 1.59 L15.82 2.12 L14.76 3.19 L14.22 4.78 L14.22 5.84 L14.76 7.43 L15.82 8.5 L16.88 9.03 L15.29 8.5 L14.22 7.43 L13.69 5.84 L13.69 4.78 L14.22 3.19 L15.29 2.12 L16.88 1.59 L17.94 1.59 L19 2.12 L20.07 3.19M16.88 9.03 L17.94 9.03 L19 8.5 L20.07 7.43M18.47 -2.12 L20.6 -2.12 L20.6 9.03M20.07 -2.12 L20.07 9.03 L22.19 9.03M25.66 1.59 L28.93 1.59M25.66 9.03 L28.52 9.03M26.89 9.03 L26.89 -0.53 L27.3 -1.59 L28.12 -2.12 L28.93 -2.12 L29.34 -1.59 L29.34 -1.06 L28.93 -0.53 L28.52 -1.06 L28.93 -1.59M27.3 9.03 L27.3 -0.53 L27.71 -1.59 L28.12 -2.12M52.16 -20.36 L50.39 -16.82 L49.51 -14.16 L48.62 -9.73 L48.62 -6.2 L49.51 -1.77 L50.39 0.89 L52.16 4.42 L53.93 6.2M52.16 -20.36 L53.93 -22.12M52.16 -20.36 L50.39 -17.7 L48.62 -14.16 L47.74 -9.73 L47.74 -6.2 L48.62 -1.77 L50.39 1.77 L52.16 4.42M65.85 -18.59 L64.08 -17.7 L62.31 -15.93 L61.42 -14.16 L60.54 -11.51 L60.54 -7.08 L61.42 -4.42 L62.31 -2.66 L64.08 -0.89 L65.85 0 L63.2 -0.89 L61.42 -2.66 L60.54 -4.42 L59.66 -7.08 L59.66 -11.51 L60.54 -14.16 L61.42 -15.93 L63.2 -17.7 L65.85 -18.59 L67.62 -18.59 L70.28 -17.7 L72.05 -15.93 L72.93 -13.28 L72.93 -18.59 L72.05 -15.93M65.85 0 L67.62 0 L70.28 -0.89 L72.05 -2.66M69.39 -7.08 L75.59 -7.08M72.05 -7.08 L72.05 0M72.93 -7.08 L72.93 0M79.07 -12.39 L83.88 -12.39M80.67 -12.39 L85.48 0 L90.28 -12.39M80.67 5.31 L79.87 4.42 L79.07 5.31 L79.87 6.2 L80.67 6.2 L82.27 5.31 L83.88 3.54 L85.48 0M81.47 -12.39 L85.48 -1.77M87.08 -12.39 L91.88 -12.39M96.57 -12.39 L100.11 -12.39 L100.11 0M96.57 0 L102.77 0M99.23 -12.39 L99.23 0M100.11 -7.08 L101 -9.73 L102.77 -11.51 L104.54 -12.39 L107.19 -12.39 L108.08 -11.51 L108.08 -10.62 L107.19 -9.73 L106.31 -10.62 L107.19 -11.51M112.35 -22.12 L114.12 -20.36 L115.89 -16.82 L116.78 -14.16 L117.66 -9.73 L117.66 -6.2 L116.78 -1.77 L115.89 0.89 L114.12 4.42 L112.35 6.2M114.12 -20.36 L115.89 -17.7 L117.66 -14.16 L118.55 -9.73 L118.55 -6.2 L117.66 -1.77 L115.89 1.77 L114.12 4.42" stroke="#000" stroke-width="1.9" fill="none" stroke-linecap="round" stroke-linejoin="round"/>
<path transform="translate(769.3 153.19) translate(0 0)" d="M5.31 -15.04 L7.08 -15.93 L9.73 -18.59 L9.73 0M5.31 0 L12.39 0M8.85 -17.7 L8.85 0M20.36 -1.77 L21.24 -2.66 L23.01 -2.66 L27.43 -0.89 L30.09 -0.89 L31.86 -1.77 L32.74 -2.66 L32.74 -4.42M20.36 0 L20.36 -2.66 L21.24 -5.31 L23.01 -7.08 L28.32 -9.73 L30.98 -11.51 L31.86 -13.28 L31.86 -15.04 L30.98 -16.82 L30.09 -17.7 L28.32 -18.59 L24.78 -18.59 L22.12 -17.7 L21.24 -16.82 L20.36 -15.04 L20.36 -14.16 L21.24 -13.28 L22.12 -14.16 L21.24 -15.04M23.01 -2.66 L27.43 0 L30.98 0 L31.86 -0.89 L32.74 -2.66M24.78 -7.96 L29.2 -9.73 L31.86 -11.51 L32.74 -13.28 L32.74 -15.04 L31.86 -16.82 L30.98 -17.7 L28.32 -18.59" stroke="#ff0000" stroke-width="1.95" fill="none" stroke-linecap="round" stroke-linejoin="round"/>
<path transform="translate(769.3 180.19) translate(0 0)" d="M5.31 -15.04 L7.08 -15.93 L9.73 -18.59 L9.73 0M5.31 0 L12.39 0M8.85 -17.7 L8.85 0M20.36 -1.77 L21.24 -2.66 L23.01 -2.66 L27.43 -0.89 L30.09 -0.89 L31.86 -1.77 L32.74 -2.66 L32.74 -4.42M20.36 0 L20.36 -2.66 L21.24 -5.31 L23.01 -7.08 L28.32 -9.73 L30.98 -11.51 L31.86 -13.28 L31.86 -15.04 L30.98 -16.82 L30.09 -17.7 L28.32 -18.59 L24.78 -18.59 L22.12 -17.7 L21.24 -16.82 L20.36 -15.04 L20.36 -14.16 L21.24 -13.28 L22.12 -14.16 L21.24 -15.04M23.01 -2.66 L27.43 0 L30.98 0 L31.86 -0.89 L32.74 -2.66M24.78 -7.96 L29.2 -9.73 L31.86 -11.51 L32.74 -13.28 L32.74 -15.04 L31.86 -16.82 L30.98 -17.7 L28.32 -18.59M38.94 -0.89 L39.82 -1.77 L40.71 -0.89 L39.82 0 L38.94 -0.89M49.56 -15.04 L51.33 -15.93 L53.98 -18.59 L53.98 0M49.56 0 L56.64 0M53.1 -17.7 L53.1 0" stroke="#00cc00" stroke-width="1.95" fill="none" stroke-linecap="round" stroke-linejoin="round"/>
<path transform="translate(769.3 207.19) translate(0 0)" d="M5.31 -15.04 L7.08 -15.93 L9.73 -18.59 L9.73 0M5.31 0 L12.39 0M8.85 -17.7 L8.85 0M20.36 -1.77 L21.24 -2.66 L23.01 -2.66 L27.43 -0.89 L30.09 -0.89 L31.86 -1.77 L32.74 -2.66 L32.74 -4.42M20.36 0 L20.36 -2.66 L21.24 -5.31 L23.01 -7.08 L28.32 -9.73 L30.98 -11.51 L31.86 -13.28 L31.86 -15.04 L30.98 -16.82 L30.09 -17.7 L28.32 -18.59 L24.78 -18.59 L22.12 -17.7 L21.24 -16.82 L20.36 -15.04 L20.36 -14.16 L21.24 -13.28 L22.12 -14.16 L21.24 -15.04M23.01 -2.66 L27.43 0 L30.98 0 L31.86 -0.89 L32.74 -2.66M24.78 -7.96 L29.2 -9.73 L31.86 -11.51 L32.74 -13.28 L32.74 -15.04 L31.86 -16.82 L30.98 -17.7 L28.32 -18.59M38.94 -0.89 L39.82 -1.77 L40.71 -0.89 L39.82 0 L38.94 -0.89M46.91 -1.77 L47.79 -2.66 L49.56 -2.66 L53.98 -0.89 L56.64 -0.89 L58.41 -1.77 L59.3 -2.66 L59.3 -4.42M46.91 0 L46.91 -2.66 L47.79 -5.31 L49.56 -7.08 L54.87 -9.73 L57.52 -11.51 L58.41 -13.28 L58.41 -15.04 L57.52 -16.82 L56.64 -17.7 L54.87 -18.59 L51.33 -18.59 L48.67 -17.7 L47.79 -16.82 L46.91 -15.04 L46.91 -14.16 L47.79 -13.28 L48.67 -14.16 L47.79 -15.04M49.56 -2.66 L53.98 0 L57.52 0 L58.41 -0.89 L59.3 -2.66M51.33 -7.96 L55.76 -9.73 L58.41 -11.51 L59.3 -13.28 L59.3 -15.04 L58.41 -16.82 L57.52 -17.7 L54.87 -18.59" stroke="#0000ff" stroke-width="1.95" fill="none" stroke-linecap="round" stroke-linejoin="round"/>
<path transform="translate(769.3 233.19) translate(0 0)" d="M5.31 -15.04 L7.08 -15.93 L9.73 -18.59 L9.73 0M5.31 0 L12.39 0M8.85 -17.7 L8.85 0M20.36 -1.77 L21.24 -2.66 L23.01 -2.66 L27.43 -0.89 L30.09 -0.89 L31.86 -1.77 L32.74 -2.66 L32.74 -4.42M20.36 0 L20.36 -2.66 L21.24 -5.31 L23.01 -7.08 L28.32 -9.73 L30.98 -11.51 L31.86 -13.28 L31.86 -15.04 L30.98 -16.82 L30.09 -17.7 L28.32 -18.59 L24.78 -18.59 L22.12 -17.7 L21.24 -16.82 L20.36 -15.04 L20.36 -14.16 L21.24 -13.28 L22.12 -14.16 L21.24 -15.04M23.01 -2.66 L27.43 0 L30.98 0 L31.86 -0.89 L32.74 -2.66M24.78 -7.96 L29.2 -9.73 L31.86 -11.51 L32.74 -13.28 L32.74 -15.04 L31.86 -16.82 L30.98 -17.7 L28.32 -18.59M38.94 -0.89 L39.82 -1.77 L40.71 -0.89 L39.82 0 L38.94 -0.89M47.79 -15.04 L48.67 -14.16 L47.79 -13.28 L46.91 -14.16 L46.91 -15.04 L47.79 -16.82 L48.67 -17.7 L51.33 -18.59 L54.87 -18.59 L56.64 -17.7 L57.52 -15.93 L57.52 -13.28 L56.64 -11.51 L54.87 -10.62 L57.52 -11.51 L58.41 -13.28 L58.41 -15.93 L57.52 -17.7 L54.87 -18.59M47.79 -3.54 L48.67 -4.42 L47.79 -5.31 L46.91 -4.42 L46.91 -3.54 L47.79 -1.77 L48.67 -0.89 L51.33 0 L54.87 0 L56.64 -0.89 L57.52 -1.77 L58.41 -3.54 L58.41 -6.2 L57.52 -8.85M52.22 -10.62 L54.87 -10.62 L56.64 -9.73 L58.41 -7.96 L59.3 -6.2 L59.3 -3.54 L58.41 -1.77 L57.52 -0.89 L54.87 0" stroke="#00ffff" stroke-width="1.95" fill="none" stroke-linecap="round" stroke-linejoin="round"/>
<path transform="translate(769.3 259.39) translate(0 0)" d="M5.31 -15.04 L7.08 -15.93 L9.73 -18.59 L9.73 0M5.31 0 L12.39 0M8.85 -17.7 L8.85 0M20.36 -1.77 L21.24 -2.66 L23.01 -2.66 L27.43 -0.89 L30.09 -0.89 L31.86 -1.77 L32.74 -2.66 L32.74 -4.42M20.36 0 L20.36 -2.66 L21.24 -5.31 L23.01 -7.08 L28.32 -9.73 L30.98 -11.51 L31.86 -13.28 L31.86 -15.04 L30.98 -16.82 L30.09 -17.7 L28.32 -18.59 L24.78 -18.59 L22.12 -17.7 L21.24 -16.82 L20.36 -15.04 L20.36 -14.16 L21.24 -13.28 L22.12 -14.16 L21.24 -15.04M23.01 -2.66 L27.43 0 L30.98 0 L31.86 -0.89 L32.74 -2.66M24.78 -7.96 L29.2 -9.73 L31.86 -11.51 L32.74 -13.28 L32.74 -15.04 L31.86 -16.82 L30.98 -17.7 L28.32 -18.59M38.94 -0.89 L39.82 -1.77 L40.71 -0.89 L39.82 0 L38.94 -0.89M52.22 0 L58.41 0M54.87 -16.82 L54.87 0M55.76 0 L55.76 -18.59 L46.02 -5.31 L60.18 -5.31" stroke="#ff00ff" stroke-width="1.95" fill="none" stroke-linecap="round" stroke-linejoin="round"/>
<path transform="translate(769.3 285.59) translate(0 0)" d="M5.31 -15.04 L7.08 -15.93 L9.73 -18.59 L9.73 0M5.31 0 L12.39 0M8.85 -17.7 L8.85 0M20.36 -1.77 L21.24 -2.66 L23.01 -2.66 L27.43 -0.89 L30.09 -0.89 L31.86 -1.77 L32.74 -2.66 L32.74 -4.42M20.36 0 L20.36 -2.66 L21.24 -5.31 L23.01 -7.08 L28.32 -9.73 L30.98 -11.51 L31.86 -13.28 L31.86 -15.04 L30.98 -16.82 L30.09 -17.7 L28.32 -18.59 L24.78 -18.59 L22.12 -17.7 L21.24 -16.82 L20.36 -15.04 L20.36 -14.16 L21.24 -13.28 L22.12 -14.16 L21.24 -15.04M23.01 -2.66 L27.43 0 L30.98 0 L31.86 -0.89 L32.74 -2.66M24.78 -7.96 L29.2 -9.73 L31.86 -11.51 L32.74 -13.28 L32.74 -15.04 L31.86 -16.82 L30.98 -17.7 L28.32 -18.59M38.94 -0.89 L39.82 -1.77 L40.71 -0.89 L39.82 0 L38.94 -0.89M47.79 -3.54 L48.67 -4.42 L47.79 -5.31 L46.91 -4.42 L46.91 -3.54 L47.79 -1.77 L48.67 -0.89 L51.33 0 L53.98 0 L55.76 -0.89 L57.52 -2.66 L58.41 -5.31 L58.41 -7.08 L57.52 -9.73 L55.76 -11.51 L53.98 -12.39 L51.33 -12.39 L48.67 -11.51 L46.91 -9.73 L48.67 -18.59 L57.52 -18.59 L53.1 -17.7 L48.67 -17.7M53.98 -12.39 L56.64 -11.51 L58.41 -9.73 L59.3 -7.08 L59.3 -5.31 L58.41 -2.66 L56.64 -0.89 L53.98 0" stroke="#ff6600" stroke-width="1.95" fill="none" stroke-linecap="round" stroke-linejoin="round"/>
</svg>
</body></html>
